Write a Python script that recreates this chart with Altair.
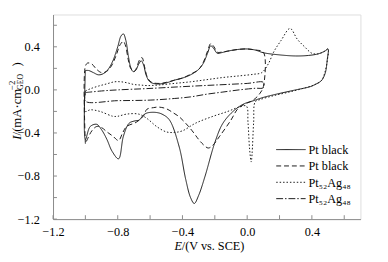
import altair as alt
import pandas as pd

# ---------------- data ----------------
# Pt black, first scan (solid) - closed loop, anodic then cathodic
pt1_v = [-1.0, -0.98, -0.95, -0.92, -0.89, -0.86, -0.83, -0.80, -0.78, -0.765, -0.75, -0.735,
         -0.72, -0.705, -0.69, -0.67, -0.655, -0.64, -0.625, -0.605, -0.58, -0.545, -0.50,
         -0.45, -0.40, -0.35, -0.30, -0.27, -0.245, -0.225, -0.205, -0.185, -0.16, -0.12,
         -0.06, 0.0, 0.05, 0.10, 0.20, 0.30, 0.38, 0.44, 0.48, 0.50,
         0.495, 0.485, 0.47, 0.455, 0.42, 0.39, 0.30, 0.18, 0.10, 0.04, -0.02, -0.08, -0.15,
         -0.20, -0.26, -0.30, -0.327, -0.35, -0.38, -0.42, -0.48, -0.52, -0.56, -0.62, -0.645,
         -0.667, -0.70, -0.73, -0.765, -0.795, -0.835, -0.867, -0.90, -0.93, -0.97, -1.0, -1.0]
pt1_i = [0.18, 0.18, 0.16, 0.14, 0.15, 0.19, 0.27, 0.40, 0.50, 0.52, 0.46, 0.32,
         0.21, 0.17, 0.18, 0.24, 0.27, 0.23, 0.14, 0.08, 0.06, 0.055, 0.065,
         0.09, 0.11, 0.14, 0.19, 0.25, 0.34, 0.41, 0.38, 0.34, 0.345, 0.36,
         0.375, 0.38, 0.37, 0.345, 0.325, 0.315, 0.32, 0.335, 0.36, 0.38,
         0.28, 0.17, 0.11, 0.08, 0.05, 0.03, 0.0, -0.04, -0.07, -0.10, -0.13, -0.19, -0.31,
         -0.49, -0.80, -0.98, -1.055, -1.0, -0.83, -0.53, -0.28, -0.23, -0.21, -0.215, -0.24,
         -0.28, -0.29, -0.31, -0.43, -0.64, -0.57, -0.46, -0.37, -0.32, -0.34, -0.46, 0.18]

# Pt black, second scan (dashed)
pt2_v = [-1.0, -1.0, -0.985, -0.96, -0.93, -0.90, -0.87, -0.84, -0.81, -0.785, -0.765, -0.75,
         -0.735, -0.72, -0.70, -0.685, -0.665, -0.65, -0.635, -0.615, -0.59, -0.545, -0.50,
         -0.45, -0.40, -0.35, -0.30, -0.27, -0.245, -0.225, -0.205, -0.185, -0.16, -0.12,
         -0.06, 0.0, 0.05, 0.10, 0.10, 0.08, 0.05, 0.02, -0.02, -0.06, -0.10, -0.17, -0.21,
         -0.24, -0.27, -0.30, -0.34, -0.38, -0.42, -0.46, -0.50, -0.545, -0.58, -0.62, -0.64,
         -0.685, -0.745, -0.77, -0.795, -0.83, -0.867, -0.90, -0.93, -0.96, -0.985, -1.0]
pt2_i = [-0.50, 0.22, 0.25, 0.24, 0.19, 0.16, 0.17, 0.22, 0.32, 0.42, 0.45, 0.40,
         0.28, 0.20, 0.17, 0.20, 0.28, 0.30, 0.22, 0.11, 0.07, 0.06, 0.07,
         0.09, 0.11, 0.145, 0.19, 0.26, 0.36, 0.43, 0.40, 0.35, 0.35, 0.36,
         0.375, 0.38, 0.37, 0.35, 0.03, -0.03, -0.08, -0.11, -0.135, -0.18, -0.28, -0.43, -0.51,
         -0.54, -0.51, -0.46, -0.38, -0.31, -0.25, -0.21, -0.175, -0.16, -0.165, -0.18, -0.24,
         -0.30, -0.34, -0.40, -0.47, -0.43, -0.39, -0.35, -0.34, -0.38, -0.45, -0.50]

# Pt52Ag48, first scan (dotted)
ag1_v = [-1.0, -0.97, -0.92, -0.87, -0.82, -0.78, -0.74, -0.70, -0.66, -0.62, -0.55, -0.45,
         -0.35, -0.25, -0.15, -0.05, 0.04, 0.09, 0.13, 0.165, 0.21, 0.265, 0.31, 0.355, 0.40,
         0.44, 0.48, 0.50,
         0.495, 0.48, 0.46, 0.42, 0.36, 0.26, 0.16, 0.08, 0.05, 0.04, 0.03, 0.025, 0.015,
         0.005, -0.005, -0.05, -0.12, -0.22, -0.32, -0.40, -0.45, -0.50, -0.56, -0.62, -0.67,
         -0.745, -0.80, -0.83, -0.91, -0.97, -1.0, -1.0]
ag1_i = [-0.01, 0.01, 0.035, 0.055, 0.075, 0.075, 0.065, 0.05, 0.045, 0.04, 0.045, 0.06,
         0.075, 0.095, 0.115, 0.13, 0.145, 0.16, 0.24, 0.355, 0.46, 0.57, 0.47, 0.40, 0.34,
         0.335, 0.36, 0.38,
         0.27, 0.16, 0.09, 0.05, 0.02, -0.02, -0.055, -0.09, -0.11, -0.30, -0.60, -0.67, -0.55,
         -0.30, -0.15, -0.16, -0.20, -0.25, -0.31, -0.38, -0.395, -0.39, -0.34, -0.265, -0.225,
         -0.225, -0.245, -0.245, -0.20, -0.185, -0.20, -0.01]

# Pt52Ag48, second scan (dash-dot)
ag2_v = [-1.0, -0.9, -0.8, -0.62, -0.4, -0.2, 0.0, 0.1,
         0.1, 0.05, -0.05, -0.15, -0.25, -0.35, -0.45, -0.6, -0.8, -1.0, -1.0]
ag2_i = [-0.025, -0.01, 0.0, 0.012, 0.03, 0.045, 0.06, 0.07,
         0.02, 0.015, 0.0, -0.02, -0.04, -0.065, -0.08, -0.095, -0.10, -0.105, -0.025]

series_keys = ["pt1", "pt2", "ag1", "ag2"]
series_labels = ["Pt black", "Pt black", "Pt\u2085\u2082Ag\u2084\u2088", "Pt\u2085\u2082Ag\u2084\u2088"]
series_v = [pt1_v, pt2_v, ag1_v, ag2_v]
series_i = [pt1_i, pt2_i, ag1_i, ag2_i]

x_ticks = [-1.2, -1.0, -0.8, -0.6, -0.4, -0.2, 0.0, 0.2, 0.4, 0.6]
y_ticks = [-1.2, -1.0, -0.8, -0.6, -0.4, -0.2, 0.0, 0.2, 0.4, 0.6]

# ---------------- styling ----------------
FONT = "Times New Roman, Liberation Serif, serif"
W, H = 314, 209
INK = "#1a1a1a"
FRAME = "#8a8a8a"
dashes = [[1, 0], [5, 3], [1.5, 2], [7, 2, 1.5, 2]]

rows = []
for key, vs, cs in zip(series_keys, series_v, series_i):
    for k, (v, c) in enumerate(zip(vs, cs)):
        rows.append({"s": key, "v": v, "i": c, "k": k})
df = pd.DataFrame(rows)

label_expr = ("abs(round(datum.value*10)) % 4 == 0 ? "
              "(datum.value < -0.001 ? '\u2212' : '') + format(abs(datum.value), '.1f') : ''")

x_enc = alt.X("v:Q", scale=alt.Scale(domain=[-1.2, 0.7], nice=False, zero=False),
              axis=alt.Axis(values=x_ticks, labelExpr=label_expr, ticks=False, tickSize=0,
                            grid=False, title=None, labelPadding=7, labelFont=FONT,
                            labelFontSize=12.5, labelColor="black", domainColor=FRAME,
                            labelFlush=False))
y_enc = alt.Y("i:Q", scale=alt.Scale(domain=[-1.2, 0.7], nice=False, zero=False),
              axis=alt.Axis(values=y_ticks, labelExpr=label_expr, ticks=False, tickSize=0,
                            grid=False, title=None, labelPadding=14, labelFont=FONT,
                            labelFontSize=12.5, labelColor="black", domainColor=FRAME,
                            labelFlush=False))

lines = alt.Chart(df).mark_line(strokeWidth=1, color=INK, interpolate="catmull-rom",
                                clip=True).encode(
    x=x_enc, y=y_enc, detail="s:N", order="k:Q",
    strokeDash=alt.StrokeDash("s:N", scale=alt.Scale(domain=series_keys, range=dashes),
                              legend=None),
)

xt = alt.Chart(pd.DataFrame({"v": x_ticks})).mark_rule(color=FRAME, strokeWidth=1).encode(
    x=x_enc, y=alt.value(H), y2=alt.value(H - 4))
yt = alt.Chart(pd.DataFrame({"i": y_ticks})).mark_rule(color=FRAME, strokeWidth=1).encode(
    y=y_enc, x=alt.value(0), x2=alt.value(4))

layers = [lines, xt, yt]

# legend (manual, inside plot, bottom right)
one = pd.DataFrame({"a": [0]})
for n, (lab, dash) in enumerate(zip(series_labels, dashes)):
    ry = 138 + n * 16.7
    layers.append(alt.Chart(one).mark_rule(color=INK, strokeWidth=1, strokeDash=dash).encode(
        x=alt.value(228), x2=alt.value(258), y=alt.value(ry)))
    layers.append(alt.Chart(one).mark_text(font=FONT, fontSize=12.5, align="left",
                                           baseline="middle", color="black").encode(
        x=alt.value(261), y=alt.value(ry + 0.5), text=alt.value(lab)))


def txt(s, x, y, size=12.5, italic=False, angle=0):
    kw = dict(font=FONT, fontSize=size, align="left", baseline="alphabetic", color="black")
    if italic:
        kw["fontStyle"] = "italic"
    if angle:
        kw["angle"] = angle
    return alt.Chart(one).mark_text(**kw).encode(x=alt.value(x), y=alt.value(y),
                                                 text=alt.value(s))


# x title: "E /(V vs. SCE)"
layers.append(txt("E", 124, 241, italic=True))
layers.append(txt(" /(V vs. SCE)", 131.5, 241))

# y title: "I/(mA·cm^-2_GEO)" rotated
bx = -33
layers.append(txt("I", bx, 128, size=13, italic=True, angle=270))
layers.append(txt("/(mA\u00b7cm", bx, 123.5, size=13, angle=270))
layers.append(txt("\u22122", bx - 6, 77, size=9, angle=270))
layers.append(txt("GEO", bx + 2.5, 77, size=8, angle=270))
layers.append(txt(")", bx, 53, size=13, angle=270))

chart = alt.layer(*layers).properties(
    width=W, height=H,
    autosize=alt.AutoSizeParams(type="none"),
    padding={"left": 46, "top": 4, "right": 20, "bottom": 33},
).configure_view(stroke=FRAME, strokeWidth=1).configure(background="white")

chart.save("out.html", embed_options={"renderer": "svg", "actions": False})
